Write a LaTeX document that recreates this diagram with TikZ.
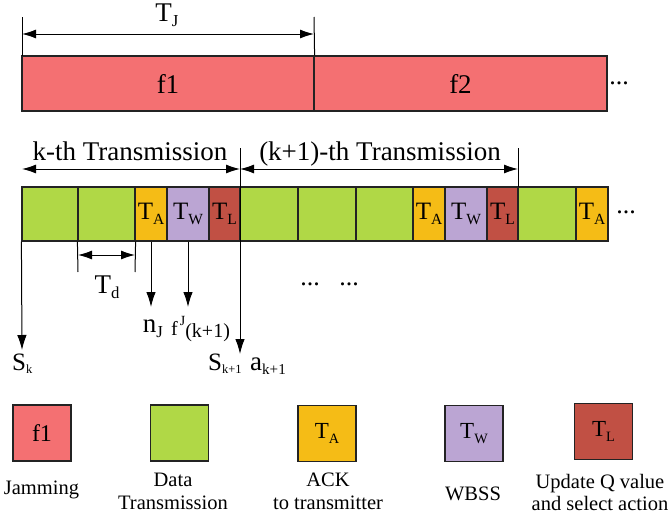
\documentclass[tikz,border=0pt]{standalone}
\usepackage{fontspec}
\setmainfont{Liberation Serif}
\usetikzlibrary{arrows.meta}

\definecolor{jamred}{RGB}{244,112,114}
\definecolor{datagreen}{RGB}{176,216,70}
\definecolor{ackorange}{RGB}{245,188,22}
\definecolor{wbsspurple}{RGB}{187,165,211}
\definecolor{learnred}{RGB}{193,80,68}
\definecolor{edge}{RGB}{35,35,35}

\newcommand{\fsz}[1]{\fontsize{#1}{#1}\selectfont}
% small lowered / raised indices
\newcommand{\sbs}[1]{\raisebox{-0.2em}{\scalebox{0.62}{#1}}}
\newcommand{\tinysbs}[1]{\raisebox{-0.15em}{\scalebox{0.5}{#1}}}
\newcommand{\midsbs}[1]{\raisebox{-0.15em}{\scalebox{0.56}{#1}}}

\begin{document}
\begin{tikzpicture}[x=1pt,y=-1pt,
  slot/.style={draw=edge, line width=1.2pt, inner sep=0pt, minimum height=54, font=\fsz{25}},
  jam/.style={draw=edge, line width=1.2pt, fill=jamred, inner sep=0pt, minimum height=55, font=\fsz{27}},
  legendbox/.style={draw=edge, line width=1.2pt, inner sep=0pt, minimum width=58, minimum height=56, font=\fsz{24}},
  thin/.style={line width=1pt, draw=black},
  tip/.style={-{Latex[length=15pt,width=9.5pt]}},
  twotip/.style={{Latex[length=14pt,width=9pt]}-{Latex[length=14pt,width=9pt]}},
  lbl/.style={font=\fsz{27}, inner sep=0pt, anchor=base},
  leg/.style={font=\fsz{20.5}, inner sep=0pt, anchor=base},
  dotsl/.style={font=\fsz{26}, inner sep=0pt}
]
\useasboundingbox (0,0) rectangle (670,522);

% ---- jamming channel bar ----
\node[jam, minimum width=292] (f1) at (168,83.5) {f1};
\node[jam, minimum width=293] (f2) at (460.5,83.5) {f2};
\node[dotsl] (jdots) at (619,83) {...};

% ---- transmission slots ----
\node[slot, fill=datagreen, minimum width=56] (c1) at (50,214) {};
\node[slot, fill=datagreen, minimum width=57] (c2) at (106.5,214) {};
\node[slot, fill=ackorange, minimum width=32] (c3) at (151,214) {T\sbs{A}};
\node[slot, fill=wbsspurple, minimum width=42] (c4) at (188,214) {T\sbs{W}};
\node[slot, fill=learnred, minimum width=31] (c5) at (224.5,214) {T\sbs{L}};
\node[slot, fill=datagreen, minimum width=58] (c6) at (269,214) {};
\node[slot, fill=datagreen, minimum width=58] (c7) at (327,214) {};
\node[slot, fill=datagreen, minimum width=57] (c8) at (384.5,214) {};
\node[slot, fill=ackorange, minimum width=32] (c9) at (429,214) {T\sbs{A}};
\node[slot, fill=wbsspurple, minimum width=42] (c10) at (466,214) {T\sbs{W}};
\node[slot, fill=learnred, minimum width=31] (c11) at (502.5,214) {T\sbs{L}};
\node[slot, fill=datagreen, minimum width=58] (c12) at (547,214) {};
\node[slot, fill=ackorange, minimum width=32] (c13) at (592,214) {T\sbs{A}};
\node[dotsl] (sdots) at (626,212) {...};

% ---- time markers ----
\coordinate (top0) at (22,17);
\coordinate (topJ) at (314,17);
\coordinate (Jl) at (22,34);
\coordinate (Jr) at (314,34);
\coordinate (k0) at (22,169);
\coordinate (k1) at (240,169);
\coordinate (k2) at (518,169);
\coordinate (mk1) at (240,148);
\coordinate (mk2) at (518,148);
\coordinate (mk2b) at (518,187);
\coordinate (sk) at (22,350);
\coordinate (sk1) at (240,354);

\draw[thin] (top0) -- (22,56);
\draw[thin] (topJ) -- (f1.north east);
\draw[thin, tip] (c1.south west) -- (sk);
\draw[thin, tip] (mk1) -- (sk1);
\draw[thin] (mk2) -- (mk2b);

\draw[thin, twotip] (Jl) -- (Jr);
\node[lbl] (TJ) at (167,21) {T\sbs{J}};

\draw[thin, twotip] (k0) -- (k1);
\draw[thin, twotip] (k1) -- (k2);
\node[lbl] (ktx) at (130,160) {k-th Transmission};
\node[lbl] (k1tx) at (380,160) {(k+1)-th Transmission};

% ---- slot duration ----
\coordinate (d0) at (78,272);
\coordinate (d1) at (135,272);
\draw[thin] (c2.south west) -- (d0);
\draw[thin] (c2.south east) -- (d1);
\draw[thin, twotip] (78,255) -- (135,255);
\node[lbl] (Td) at (107,293) {T\sbs{d}};

% ---- observed quantities ----
\coordinate (nj) at (151,307);
\coordinate (fj) at (188,307);
\draw[thin, tip] (c3.south) -- (nj);
\draw[thin, tip] (c4.south) -- (fj);
\node[lbl, anchor=base] (njl) at (153,332) {n\sbs{J}};
\node[lbl, anchor=base west, font=\fsz{20}] (fjl) at (171,335)
  {f\hspace{2pt}\raisebox{10pt}{\fsz{14}J}\raisebox{-2pt}{(k+1)}};

\node[lbl, anchor=base west, font=\fsz{25}] (skl) at (12,370) {S\tinysbs{k}};
\node[lbl, anchor=base west, font=\fsz{25}] (sk1l) at (208,370) {S\tinysbs{k+1}};
\node[lbl, anchor=base west] (ak1l) at (250,370) {a\midsbs{k+1}};

\node[dotsl] (mdots1) at (310,284) {...};
\node[dotsl] (mdots2) at (349,284) {...};

% ---- legend ----
\node[legendbox, fill=jamred] (L1) at (42,433) {f1};
\node[legendbox, fill=datagreen] (L2) at (179.5,433) {};
\node[legendbox, fill=ackorange, font=\fsz{23}] (L3) at (327,433.5) {T\sbs{A}};
\node[legendbox, fill=wbsspurple, font=\fsz{23}] (L4) at (474,433.5) {T\sbs{W}};
\node[legendbox, fill=learnred, font=\fsz{23}] (L5) at (603.5,431.5) {T\sbs{L}};

\node[leg] (t1) at (41.5,494) {Jamming};
\node[leg] (t2a) at (173,486) {Data};
\node[leg] (t2b) at (173,509) {Transmission};
\node[leg] (t3a) at (328,486) {ACK};
\node[leg] (t3b) at (328,509) {to transmitter};
\node[leg] (t4) at (473,500) {WBSS};
\node[leg] (t5a) at (600,488) {Update Q value};
\node[leg] (t5b) at (600,510) {and select action};
\end{tikzpicture}
\end{document}
